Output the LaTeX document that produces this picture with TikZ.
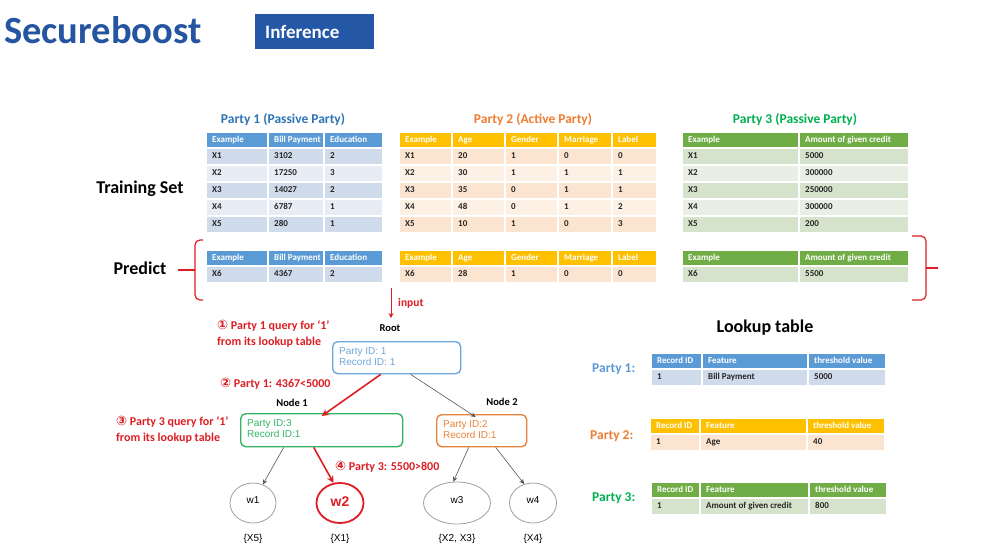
\documentclass[tikz,border=0pt]{standalone}
\usepackage{fontspec}
\setmainfont{Carlito}
\newfontfamily\arialf{Liberation Sans}
\newfontfamily\symf{DejaVu Sans}
\usetikzlibrary{shapes.geometric,arrows.meta,calc}
\definecolor{titleblue}{HTML}{2554A0}
\definecolor{infblue}{HTML}{2557A7}
\definecolor{bhead}{HTML}{5B9BD5}
\definecolor{bband}{HTML}{CFDAEB}
\definecolor{bband2}{HTML}{E8EDF5}
\definecolor{btitle}{HTML}{2E75B6}
\definecolor{ohead}{HTML}{FFC000}
\definecolor{oband}{HTML}{FCE5D0}
\definecolor{oband2}{HTML}{FDF1E6}
\definecolor{otitle}{HTML}{ED7D31}
\definecolor{ghead}{HTML}{70AD47}
\definecolor{gband}{HTML}{D5E3CC}
\definecolor{gband2}{HTML}{E9EFE5}
\definecolor{gtitle}{HTML}{00B050}
\definecolor{annred}{HTML}{DE1E24}
\definecolor{rootblue}{HTML}{6FA6DA}
\definecolor{nodegreen}{HTML}{33B464}
\definecolor{nodeorange}{HTML}{E8823A}
\definecolor{linegray}{HTML}{555555}
\newcommand\trow[5]{%
  \foreach \xa/\xb/\tx in {#5}{%
    \path[fill=#3,draw=white,line width=1.1pt] (\xa,#1) rectangle (\xb,#2);
    \node[#4] (c\xa-#1) at ({\xa+6},{(#1+#2)/2}) {\tx};
  }}
\newcommand\circnum[1]{{\symf\fontsize{13}{13}\selectfont #1}}
\tikzset{
  hdr/.style={anchor=west,inner sep=0pt,text height=6.2pt,text depth=2pt,text=white,font=\fontsize{9}{10}\selectfont\bfseries},
  bod/.style={anchor=west,inner sep=0pt,text height=6.2pt,text depth=2pt,text=black!85,font=\fontsize{9}{10}\selectfont\bfseries},
  ptitle/.style={inner sep=0pt,font=\fontsize{13.5}{15}\selectfont\bfseries},
  bigtitle/.style={inner sep=0pt,font=\fontsize{18}{20}\selectfont\bfseries,text=black},
  ann/.style={inner sep=0pt,anchor=west,align=left,text=annred,font=\fontsize{12}{16}\selectfont\bfseries},
  treebox/.style={draw,rounded corners=5pt,line width=1.4pt,anchor=north west,inner sep=0pt},
  treetxt/.style={inner sep=0pt,anchor=west,align=left,font=\arialf\fontsize{10}{11}\selectfont},
  nlabel/.style={inner sep=0pt,font=\fontsize{10.5}{12}\selectfont\bfseries,text=black},
  leaf/.style={ellipse,draw=gray!75,line width=0.8pt,inner sep=0pt,minimum height=40pt,font=\arialf\fontsize{10}{11}\selectfont},
  setlbl/.style={inner sep=0pt,font=\arialf\fontsize{10}{11}\selectfont},
  grayarrow/.style={draw=linegray,line width=0.6pt,-{Stealth[length=5pt,width=4.5pt]}},
  redarrow/.style={draw=annred,line width=1.6pt,-{Stealth[length=7pt,width=7pt]}},
  bracestyle/.style={draw=annred,line width=1.2pt,rounded corners=5pt},
}
\begin{document}
\begin{tikzpicture}[x=1pt,y=-1pt]
\useasboundingbox (0,0) rectangle (997,552);
\fill[white] (0,0) rectangle (997,552);

% title
\node[inner sep=0pt,anchor=base west,text=titleblue,font=\fontsize{38.5}{40}\selectfont\bfseries] (title) at (4,43) {Secureboost};
\node[fill=infblue,text=white,anchor=north west,inner xsep=10pt,inner ysep=0pt,text width=99pt,minimum height=35pt,align=left,font=\fontsize{19}{20}\selectfont\bfseries] (inf) at (255,14) {Inference};

% party titles
\node[ptitle,text=btitle] (t1) at (283,120) {Party 1 (Passive Party)};
\node[ptitle,text=otitle] (t2) at (533,120) {Party 2 (Active Party)};
\node[ptitle,text=gtitle] (t3) at (795,120) {Party 3 (Passive Party)};

\node[bigtitle] (train) at (140,189) {Training Set};
\node[bigtitle] (pred) at (140,268) {Predict};

% Party 1 training
\trow{132}{148}{bhead}{hdr}{206/268/Example,268/324/Bill Payment,324/383/Education}
\trow{148}{165}{bband}{bod}{206/268/X1,268/324/3102,324/383/2}
\trow{165}{182}{bband2}{bod}{206/268/X2,268/324/17250,324/383/3}
\trow{182}{199}{bband}{bod}{206/268/X3,268/324/14027,324/383/2}
\trow{199}{216}{bband2}{bod}{206/268/X4,268/324/6787,324/383/1}
\trow{216}{233}{bband}{bod}{206/268/X5,268/324/280,324/383/1}

% Party 2 training
\trow{132}{148}{ohead}{hdr}{399/452/Example,452/505/Age,505/558/Gender,558/612/Marriage,612/657/Label}
\trow{148}{165}{oband}{bod}{399/452/X1,452/505/20,505/558/1,558/612/0,612/657/0}
\trow{165}{182}{oband2}{bod}{399/452/X2,452/505/30,505/558/1,558/612/1,612/657/1}
\trow{182}{199}{oband}{bod}{399/452/X3,452/505/35,505/558/0,558/612/1,612/657/1}
\trow{199}{216}{oband2}{bod}{399/452/X4,452/505/48,505/558/0,558/612/1,612/657/2}
\trow{216}{233}{oband}{bod}{399/452/X5,452/505/10,505/558/1,558/612/0,612/657/3}

% Party 3 training
\trow{132}{148}{ghead}{hdr}{682/799/Example,799/909/Amount of given credit}
\trow{148}{165}{gband}{bod}{682/799/X1,799/909/5000}
\trow{165}{182}{gband2}{bod}{682/799/X2,799/909/300000}
\trow{182}{199}{gband}{bod}{682/799/X3,799/909/250000}
\trow{199}{216}{gband2}{bod}{682/799/X4,799/909/300000}
\trow{216}{233}{gband}{bod}{682/799/X5,799/909/200}

% Predict tables
\trow{250}{266}{bhead}{hdr}{206/268/Example,268/324/Bill Payment,324/383/Education}
\trow{266}{283}{bband}{bod}{206/268/X6,268/324/4367,324/383/2}
\trow{250}{266}{ohead}{hdr}{399/452/Example,452/505/Age,505/558/Gender,558/612/Marriage,612/657/Label}
\trow{266}{283}{oband}{bod}{399/452/X6,452/505/28,505/558/1,558/612/0,612/657/0}
\trow{250}{266}{ghead}{hdr}{682/799/Example,799/909/Amount of given credit}
\trow{266}{283}{gband}{bod}{682/799/X6,799/909/5500}

% braces
\coordinate (lbA) at (203,240);
\coordinate (lbB) at (203,300);
\coordinate (lbM) at (195,270);
\coordinate (lbT) at (178,270);
\draw[bracestyle] (lbA) -- (195,240) -- (195,300) -- (lbB);
\draw[annred,line width=1.2pt] (lbM) -- (lbT);
\coordinate (rbA) at (912,236);
\coordinate (rbB) at (912,300);
\coordinate (rbM) at (926,268);
\coordinate (rbT) at (938,268);
\draw[bracestyle] (rbA) -- (926,236) -- (926,300) -- (rbB);
\draw[annred,line width=1.2pt] (rbM) -- (rbT);

% input arrow
\coordinate (inA) at (391,288);
\coordinate (inB) at (391,318);
\draw[annred,line width=1pt,-{Stealth[length=5pt,width=5pt]}] (inA) -- (inB);
\node[inner sep=0pt,anchor=west,text=annred,font=\fontsize{11.5}{13}\selectfont\bfseries] (inlbl) at (398,303) {input};

% annotations
\node[ann] (a1) at (217,334) {\circnum{①} Party 1 query for ‘1’\\from its lookup table};
\node[ann] (a2) at (220,384) {\circnum{②} Party 1: 4367<5000};
\node[ann] (a3) at (116,430) {\circnum{③} Party 3 query for ‘1’\\from its lookup table};
\node[ann] (a4) at (335,467) {\circnum{④} Party 3: 5500>800};

% tree
\node[nlabel] (rootlbl) at (390,328) {Root};
\node[treebox,draw=rootblue,minimum width=128pt,minimum height=32pt] (root) at (332,341) {};
\node[treetxt,text=rootblue] (roottxt) at (339,357) {Party ID: 1\\Record ID: 1};

\node[nlabel] (n1lbl) at (292,403) {Node 1};
\node[treebox,draw=nodegreen,minimum width=162pt,minimum height=33pt] (node1) at (240,413) {};
\node[treetxt,text=nodegreen] (n1txt) at (247,429) {Party ID:3\\Record ID:1};

\node[nlabel] (n2lbl) at (502,402) {Node 2};
\node[treebox,draw=nodeorange,minimum width=90pt,minimum height=32pt] (node2) at (436,414) {};
\node[treetxt,text=nodeorange] (n2txt) at (443,430) {Party ID:2\\Record ID:1};

\node[leaf,minimum width=46pt] (w1) at (253,503) {\raisebox{5pt}{w1}};
\node[leaf,draw=annred,line width=1.8pt,minimum width=47pt,text=annred,font=\arialf\fontsize{14}{15}\selectfont\bfseries] (w2) at (340,503) {\raisebox{3pt}{w2}};
\node[leaf,minimum width=67pt,minimum height=42pt] (w3) at (457,503) {\raisebox{5pt}{w3}};
\node[leaf,minimum width=47pt] (w4) at (533,503) {\raisebox{5pt}{w4}};

\node[setlbl] (s1) at (253,539) {\{X5\}};
\node[setlbl] (s2) at (340,539) {\{X1\}};
\node[setlbl] (s3) at (457,539) {\{X2, X3\}};
\node[setlbl] (s4) at (533,539) {\{X4\}};

\draw[redarrow] ([xshift=-16pt]root.south) -- ([yshift=-3pt]node1.north);
\draw[grayarrow] ([xshift=14pt]root.south) -- ([xshift=-6pt,yshift=-3pt]node2.north);
\draw[grayarrow] ([xshift=-38pt]node1.south) -- (w1.62);
\draw[redarrow] ([xshift=-8pt]node1.south) -- (w2.108);
\draw[grayarrow] ([xshift=-13pt]node2.south) -- (w3.100);
\draw[grayarrow] ([xshift=14pt]node2.south) -- (w4.115);

% lookup tables
\node[bigtitle] (lk) at (765,328) {Lookup table};
\node[inner sep=0pt,anchor=west,text=bhead,font=\fontsize{13.5}{15}\selectfont\bfseries] (lp1) at (592,369) {Party 1:};
\node[inner sep=0pt,anchor=west,text=otitle,font=\fontsize{13.5}{15}\selectfont\bfseries] (lp2) at (590,436) {Party 2:};
\node[inner sep=0pt,anchor=west,text=gtitle,font=\fontsize{13.5}{15}\selectfont\bfseries] (lp3) at (592,498) {Party 3:};

\trow{353}{369}{bhead}{hdr}{651/702/Record ID,702/808/Feature,808/886/threshold value}
\trow{369}{386}{bband}{bod}{651/702/1,702/808/Bill Payment,808/886/5000}
\trow{418}{434}{ohead}{hdr}{650/700/Record ID,700/807/Feature,807/885/threshold value}
\trow{434}{451}{oband}{bod}{650/700/1,700/807/Age,807/885/40}
\trow{482}{498}{ghead}{hdr}{651/700/Record ID,700/809/Feature,809/887/threshold value}
\trow{498}{515}{gband}{bod}{651/700/1,700/809/Amount of given credit,809/887/800}
\end{tikzpicture}
\end{document}
